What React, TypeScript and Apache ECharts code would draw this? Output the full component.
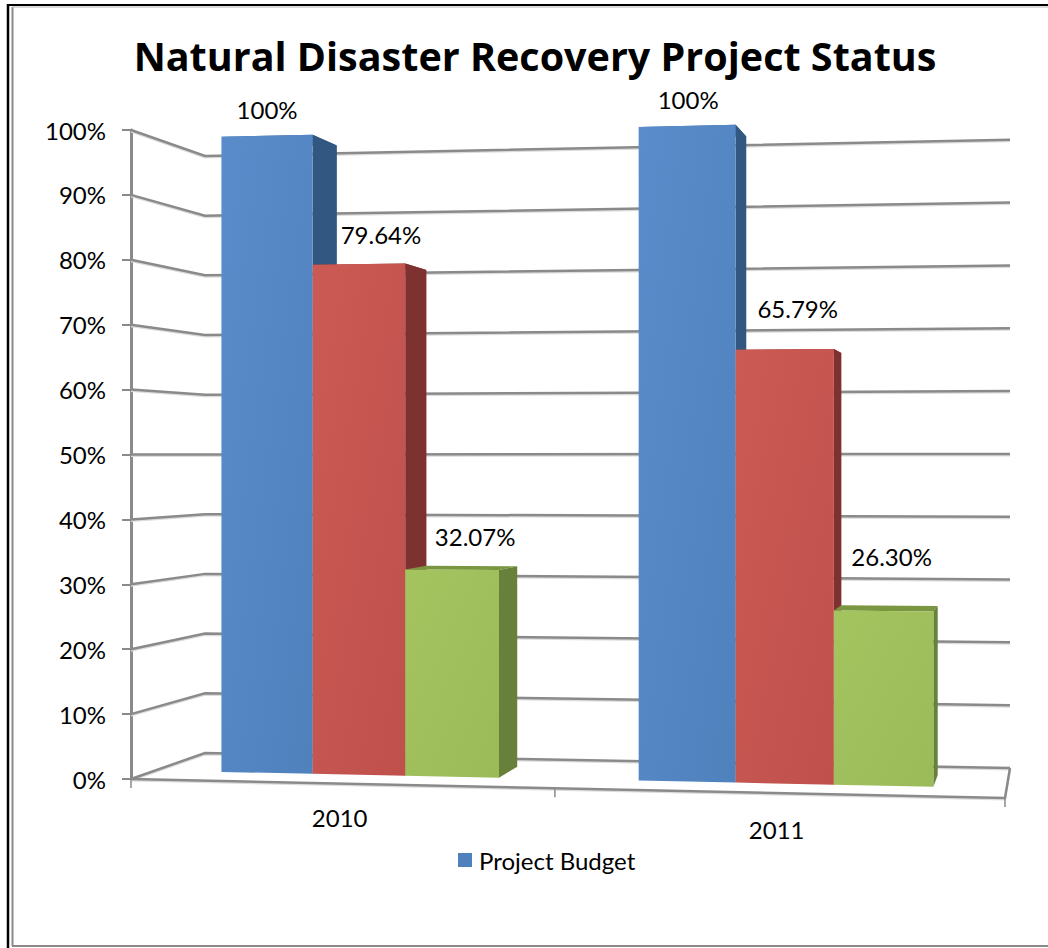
import React, { useEffect, useRef } from "react";
import * as echarts from "echarts";

// ---- data ----
const years = ["2010", "2011"];
const budget = [100, 100];
const spent = [79.64, 65.79];
const completed = [32.07, 26.3];
const seriesNames = ["Project Budget", "Series 2", "Series 3"];
const yTicks = [0, 10, 20, 30, 40, 50, 60, 70, 80, 90, 100];

// ---- layout ----
const W = 1048, H = 948;
const GL = 131, GW = 874, GT = 130, GH = 649, GB = GT + GH;
const FONT = "Lato, 'Noto Sans', sans-serif";
const TITLE_FONT = "'Open Sans', Lato, sans-serif";
const lerp = (a: number, b: number, t: number) => a + (b - a) * t;
// horizontal perspective: the right-hand part of the floor is nearer
const warp = (f: number) => f - 0.06 * f * (1 - f);
// maps a pixel of the flat cartesian grid to the 3D box (d: 0 front, 1 back wall)
const project = (px: number, py: number, d: number): number[] => {
  const u = warp((px - GL) / GW);
  const x = lerp(lerp(131, 1005, u), lerp(205, 1010, u), d);
  const floor = lerp(lerp(779, 798, u), lerp(753, 768, u), d);
  const k = lerp(lerp(1, 1.063, u), lerp(0.92, 0.968, u), d);
  return [x, floor - (GB - py) * k];
};
const D_FRONT = 0.325, D_BACK = 0.72;
const BAR_START = 0.165, BAR_W = 0.224;
// data-label offset from the middle of each bar's top edge [series][category]
const labelOffsets = [
  [[0, -26], [1, -26]],
  [[22, -30], [13, -41]],
  [[23, -33], [8, -54]],
];
const yearLabelDrop = [34, 36];
const palette = [
  { a: "#5a8ccb", b: "#4f81bd", side: "#325780", top: "#3f6797" },
  { a: "#cc5a54", b: "#bf504c", side: "#7d3230", top: "#8f3b38" },
  { a: "#a4c460", b: "#9bbb59", side: "#67803a", top: "#7a9640" },
];
const GRAY = "#8a8a8a";

const barSeries = (s: number, values: number[]) => ({
  type: "custom",
  name: seriesNames[s],
  itemStyle: { color: palette[s].b },
  encode: { x: 0, y: 1 },
  data: values.map((v, i) => [i, v]),
  z: 3 + s,
  renderItem: (_: any, api: any) => {
    const cat = api.value(0), val = api.value(1);
    const [cx, py] = api.coord([cat, val]);
    const band = api.size([1, 0])[0];
    const x1 = cx - band / 2 + band * (BAR_START + BAR_W * s);
    const x2 = x1 + band * BAR_W;
    const c = palette[s];
    const poly = (pts: number[][], fill: any) => ({
      type: "polygon",
      shape: { points: pts },
      style: { fill, stroke: null },
    });
    const fTL = project(x1, py, D_FRONT), fTR = project(x2, py, D_FRONT);
    const fBL = project(x1, GB, D_FRONT), fBR = project(x2, GB, D_FRONT);
    const bTL = project(x1, py, D_BACK), bTR = project(x2, py, D_BACK);
    const bBR = project(x2, GB, D_BACK);
    const off = labelOffsets[s][cat];
    return {
      type: "group",
      children: [
        poly([fTL, fTR, bTR, bTL], c.top),
        poly([fTR, bTR, bBR, fBR], c.side),
        poly([fTL, fTR, fBR, fBL], new echarts.graphic.LinearGradient(0, 0, 1, 1, [
          { offset: 0, color: c.a },
          { offset: 1, color: c.b },
        ])),
        {
          type: "text",
          z2: 10,
          style: {
            text: val === 100 ? "100%" : val.toFixed(2) + "%",
            x: (fTL[0] + fTR[0]) / 2 + off[0],
            y: (fTL[1] + fTR[1]) / 2 + off[1],
            fill: "#000",
            fontSize: 24,
            fontFamily: FONT,
            align: "center",
            verticalAlign: "middle",
          },
        },
      ],
    };
  },
});

const wallSeries = {
  type: "custom",
  name: "walls",
  encode: { x: 0, y: 1 },
  data: yTicks.map((t) => [0, t]),
  z: 1,
  renderItem: (_: any, api: any) => {
    const val = api.value(1);
    const [cx, py] = api.coord([0, val]);
    const band = api.size([1, 0])[0];
    const L = cx - band / 2, R = L + 2 * band;
    const pts = [project(L, py, 0), project(L, py, 1), project(R, py, 1)];
    const line = (p: number[][], stroke: string, w: number, dy = 0) => ({
      type: "polyline",
      shape: { points: p.map(([x, y]) => [x, y + dy]) },
      style: { stroke, lineWidth: w, fill: null },
    });
    const children: any[] = [line(pts, "#dcdcdc", 2, 1.5), line(pts, GRAY, 2.5)];
    if (val === 0) {
      const front = [project(L, py, 0), project(R, py, 0), project(R, py, 1)];
      children.push(line(front, "#dcdcdc", 2, 1.5), line(front, GRAY, 2.5));
      [L, L + band, R].forEach((tx) => {
        const p = project(tx, py, 0);
        children.push(line([p, [p[0], p[1] + 9]], GRAY, 1.5));
      });
    }
    return { type: "group", children };
  },
};

const yearLabelSeries = {
  type: "custom",
  name: "years",
  encode: { x: 0, y: 1 },
  data: years.map((_, i) => [i, 0]),
  z: 2,
  renderItem: (_: any, api: any) => {
    const i = api.value(0);
    const [cx, py] = api.coord([i, 0]);
    const p = project(cx, py, 0);
    return {
      type: "text",
      style: {
        text: years[i],
        x: p[0],
        y: p[1] + yearLabelDrop[i],
        fill: "#000",
        fontSize: 24,
        fontFamily: FONT,
        align: "center",
        verticalAlign: "middle",
      },
    };
  },
};

const frame = (x1: number, y1: number, x2: number, y2: number, stroke: string, lineWidth: number) => ({
  type: "line",
  shape: { x1, y1, x2, y2 },
  style: { stroke, lineWidth },
  silent: true,
});

export default function App() {
  const ref = useRef<HTMLDivElement>(null);
  useEffect(() => {
    document.body.style.margin = "0";
    const chart = echarts.init(ref.current!, null, { renderer: "svg" });
    chart.setOption({
      animation: false,
      backgroundColor: "#fff",
      title: {
        text: "Natural Disaster Recovery Project Status",
        left: 530,
        top: 31,
        textAlign: "center",
        textStyle: { fontFamily: TITLE_FONT, fontWeight: "bold", fontSize: 39.5, color: "#000" },
      },
      legend: {
        data: [seriesNames[0]],
        left: 453,
        top: 843,
        icon: "rect",
        itemWidth: 14,
        itemHeight: 14,
        itemGap: 6,
        textStyle: { fontFamily: FONT, fontSize: 24, color: "#000", padding: [0, 0, 0, 2] },
      },
      grid: { left: GL, top: GT, width: GW, height: GH, containLabel: false },
      xAxis: {
        type: "category",
        data: years,
        axisLine: { show: false },
        axisTick: { show: false },
        axisLabel: { show: false },
      },
      yAxis: {
        type: "value",
        min: 0,
        max: 100,
        interval: 10,
        axisLine: { show: true, lineStyle: { color: GRAY, width: 3 } },
        axisTick: { show: true, length: 9, lineStyle: { color: GRAY, width: 2 } },
        axisLabel: { formatter: "{value}%", margin: 25, fontSize: 24, fontFamily: FONT, color: "#000" },
        splitLine: { show: false },
      },
      graphic: [
        frame(7, 5, W, 5, "#000", 2),
        frame(8, 4, 8, H, "#000", 2.5),
        frame(12.5, 7, 12.5, 946, GRAY, 2),
        frame(12, 946, W, 946, GRAY, 2),
        frame(12, 7, W, 7, "#b5b5b5", 1),
      ],
      series: [
        wallSeries,
        yearLabelSeries,
        barSeries(0, budget),
        barSeries(1, spent),
        barSeries(2, completed),
      ],
    });
    return () => chart.dispose();
  }, []);
  return <div ref={ref} style={{ position: "absolute", left: 0, top: 0, width: W, height: H }} />;
}
